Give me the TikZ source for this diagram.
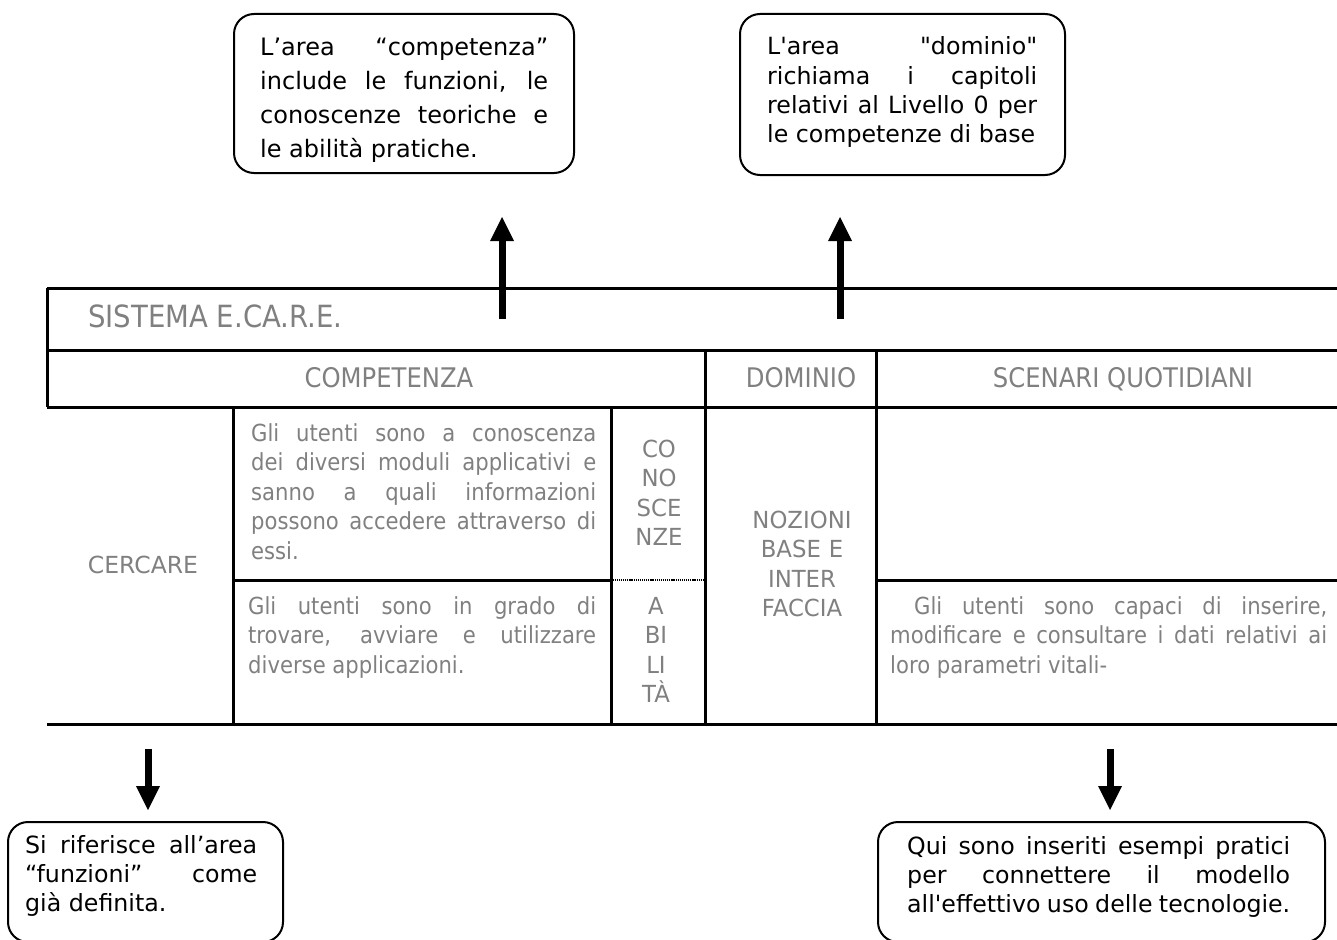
\documentclass[tikz,border=0pt]{standalone}
\usepackage{fontspec}
\newfontfamily\vfont{DejaVu Sans}
\newfontfamily\condf{DejaVu Sans}[FakeStretch=0.9]
\newfontfamily\capf{DejaVu Sans}[FakeStretch=0.97]
\usetikzlibrary{arrows.meta}
\definecolor{tgray}{RGB}{128,128,128}
\newcommand\nohyph{\hyphenpenalty=10000\relax\tolerance=10000\relax}
\begin{document}
\begin{tikzpicture}[x=1pt,y=-1pt,
  tline/.style={line width=3pt},
  dotline/.style={line width=1.1pt, dash pattern=on 1.2pt off 0.9pt},
  callout/.style={draw, line width=2pt, rounded corners=20pt, inner sep=0pt},
  ctext/.style={inner sep=0pt, anchor=base west, align=justify,
     font=\vfont\nohyph\fontsize{23.7}{29.3}\selectfont},
  hdr/.style={inner sep=0pt, text=tgray, font=\condf\fontsize{27}{32}\selectfont},
  cell/.style={inner sep=0pt, text=tgray, anchor=base,
     font=\condf\nohyph\fontsize{23.5}{29.6}\selectfont},
  capcell/.style={cell, font=\capf\nohyph\fontsize{23.5}{29.6}\selectfont},
  cellp/.style={cell, anchor=base west, align=justify},
  arr/.style={line width=7pt, -{Triangle[width=24pt,length=24pt,line width=0pt]}}]
\useasboundingbox (0,0) rectangle (1337,939);

% ---------- table lines ----------
\draw[tline] (47,288) -- (1337,288);
\draw[tline] (47,350) -- (1337,350);
\draw[tline] (47,407) -- (1337,407);
\draw[tline] (47,724) -- (1337,724);
\draw[tline] (47,288) -- (47,407);
\draw[tline] (233,407) -- (233,724);
\draw[tline] (611,407) -- (611,724);
\draw[tline] (705,350) -- (705,724);
\draw[tline] (876,350) -- (876,724);
\draw[tline] (233,580) -- (611,580);
\draw[tline] (876,580) -- (1337,580);
\draw[dotline] (612.5,580) -- (703.5,580);

% ---------- table texts ----------
\node[hdr, anchor=base west, font=\condf\fontsize{30.6}{34}\selectfont] (sis) at (88,327) {SISTEMA E.CA.R.E.};
\node[hdr, anchor=base] (comp) at (389,387) {COMPETENZA};
\node[hdr, anchor=base] (dom) at (801,387) {DOMINIO};
\node[hdr, anchor=base] (scen) at (1123,387) {SCENARI QUOTIDIANI};

\node[capcell, font=\vfont\fontsize{23.5}{29.6}\selectfont] (cerc) at (143,573) {CERCARE};
\node[cellp, text width=345pt] (know) at (251,441)
  {Gli utenti sono a conoscenza\linebreak dei diversi moduli applicativi e\linebreak sanno a quali informazioni\linebreak possono accedere attraverso di\linebreak essi.};
\node[cellp, text width=348pt] (abil) at (248,614)
  {Gli utenti sono in grado di\linebreak trovare, avviare e utilizzare\linebreak diverse applicazioni.};
\node[capcell, text width=90pt, align=center] (kn) at (659,457) {CO\\NO\\SCE\\NZE};
\node[capcell, text width=90pt, align=center] (ab) at (656,614) {A\\BI\\LI\\TÀ};
\node[capcell, text width=150pt, align=center] (noz) at (802,528) {NOZIONI\\BASE E\hspace*{34pt}\\INTER\\FACCIA};
\node[cellp, text width=437pt] (scb) at (890,614)
  {\hspace*{24pt}Gli utenti sono capaci di inserire,\linebreak modificare e consultare i dati relativi ai\linebreak loro parametri vitali-};

% ---------- callouts ----------
\node[callout, minimum width=340pt, minimum height=159pt] (b1) at (404,93.5) {};
\node[ctext, text width=288pt, font=\vfont\nohyph\fontsize{24}{34}\selectfont] (t1) at (260,56)
  {L’area “competenza”\linebreak include le funzioni, le\linebreak conoscenze teoriche e\linebreak le abilità pratiche.};

\node[callout, minimum width=325pt, minimum height=161pt] (b2) at (902.5,94.5) {};
\node[ctext, text width=270pt] (t2) at (767,55)
  {L'area "dominio"\linebreak richiama i capitoli\linebreak relativi al Livello 0 per\linebreak le competenze di base};

\node[callout, minimum width=275pt, minimum height=120pt] (b3) at (145.5,882) {};
\node[ctext, text width=232pt] (t3) at (25,853)
  {Si riferisce all’area\linebreak “funzioni” come\linebreak già definita.};

\node[callout, minimum width=447pt, minimum height=120pt] (b4) at (1101.5,882) {};
\node[ctext, text width=383pt] (t4) at (907,854)
  {Qui sono inseriti esempi pratici\linebreak per connettere il modello\linebreak all'effettivo uso delle tecnologie.};

% ---------- arrows ----------
\coordinate (u1s) at (502,319);
\coordinate (u1e) at (502,217);
\coordinate (u2s) at (840,319);
\coordinate (u2e) at (840,217);
\coordinate (d1s) at (148,749);
\coordinate (d1e) at (148,810);
\coordinate (d2s) at (1110,749);
\coordinate (d2e) at (1110,810);
\draw[arr] (u1s) -- (u1e);
\draw[arr] (u2s) -- (u2e);
\draw[arr] (d1s) -- (d1e);
\draw[arr] (d2s) -- (d2e);
\end{tikzpicture}
\end{document}
